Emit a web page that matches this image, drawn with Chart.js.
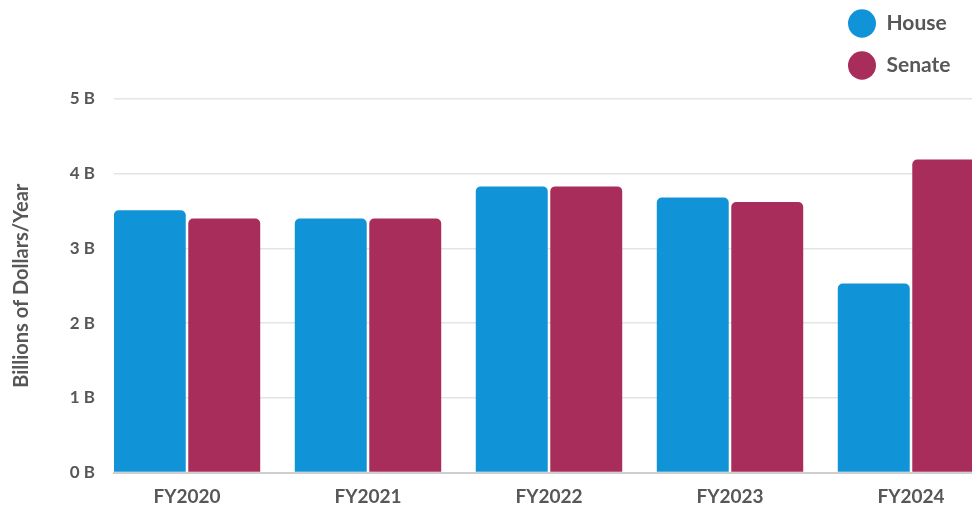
<!DOCTYPE html>
<html><head><meta charset="utf-8">
<script src="https://cdn.jsdelivr.net/npm/chart.js@4/dist/chart.umd.min.js"></script>
<style>html,body{margin:0;padding:0;background:#fff;overflow:hidden}#wrap{width:972px;height:509px;position:relative}</style>
</head><body><div id="wrap"><canvas id="c"></canvas></div>
<script>
const categories = ['FY2020', 'FY2021', 'FY2022', 'FY2023', 'FY2024'];
const seriesNames = ['House', 'Senate'];
const houseValues = [3.51, 3.40, 3.83, 3.68, 2.53];
const senateValues = [3.40, 3.40, 3.83, 3.62, 4.19];
const yMin = 0, yMax = 5, yStep = 1;
const yTickSuffix = ' B';
const axisTitle = 'Billions of Dollars/Year';

const FONT = 'Lato, Roboto, "Noto Sans", sans-serif';
const TEXT = '#575757';
Chart.defaults.font.family = FONT;
Chart.defaults.color = TEXT;

const toPoints = vals => vals.map((v, i) => ({x: i, y: v}));

const legendPlacer = {
  id: 'legendPlacer',
  afterLayout(chart) {
    const lg = chart.legend;
    if (!lg) return;
    lg.left = 827; lg.right = 972; lg.width = 145;
    lg.top = -8; lg.bottom = 90; lg.height = 98;
  }
};

new Chart(document.getElementById('c'), {
  type: 'bar',
  data: {
    datasets: [
      {label: seriesNames[0], data: toPoints(houseValues), backgroundColor: '#1193d7', borderWidth: 0, borderRadius: 5, borderSkipped: 'start'},
      {label: seriesNames[1], data: toPoints(senateValues), backgroundColor: '#a82d5a', borderWidth: 0, borderRadius: 5, borderSkipped: 'start'}
    ]
  },
  plugins: [legendPlacer],
  options: {
    responsive: true,
    maintainAspectRatio: false,
    animation: false,
    layout: {padding: {top: 47, right: 0, bottom: 0, left: 0}},
    categoryPercentage: 0.823,
    barPercentage: 0.966,
    plugins: {
      tooltip: {enabled: false},
      legend: {
        position: 'top',
        align: 'start',
        labels: {
          usePointStyle: true,
          pointStyle: 'circle',
          pointStyleWidth: 28,
          boxHeight: 20,
          padding: 21,
          color: TEXT,
          font: {size: 21, weight: 'bold', family: FONT}
        }
      }
    },
    scales: {
      x: {
        type: 'linear',
        bounds: 'data',
        offset: false,
        min: -0.4033,
        max: 4.337,
        grid: {display: false, drawTicks: false, offset: false},
        border: {display: true, color: '#cfcfcf', width: 2},
        afterFit(s) { s.height = 36.5; },
        afterBuildTicks(s) { s.ticks = categories.map((_, i) => ({value: i})); },
        ticks: {
          autoSkip: false,
          maxRotation: 0,
          padding: 13,
          color: TEXT,
          font: {size: 19, weight: 'bold'},
          callback: v => categories[Math.round(v)]
        }
      },
      y: {
        min: yMin,
        max: yMax,
        grid: {color: '#e4e4e4', lineWidth: 1.5, drawTicks: false},
        border: {display: false},
        afterFit(s) { s.width = 114; },
        ticks: {
          stepSize: yStep,
          padding: 19,
          color: TEXT,
          font: {size: 17, weight: 'bold'},
          callback: v => v + yTickSuffix
        },
        title: {
          display: true,
          text: axisTitle,
          color: TEXT,
          font: {size: 20, weight: 'bold'},
          padding: {top: 10, bottom: 0}
        }
      }
    }
  }
});
</script></body></html>
